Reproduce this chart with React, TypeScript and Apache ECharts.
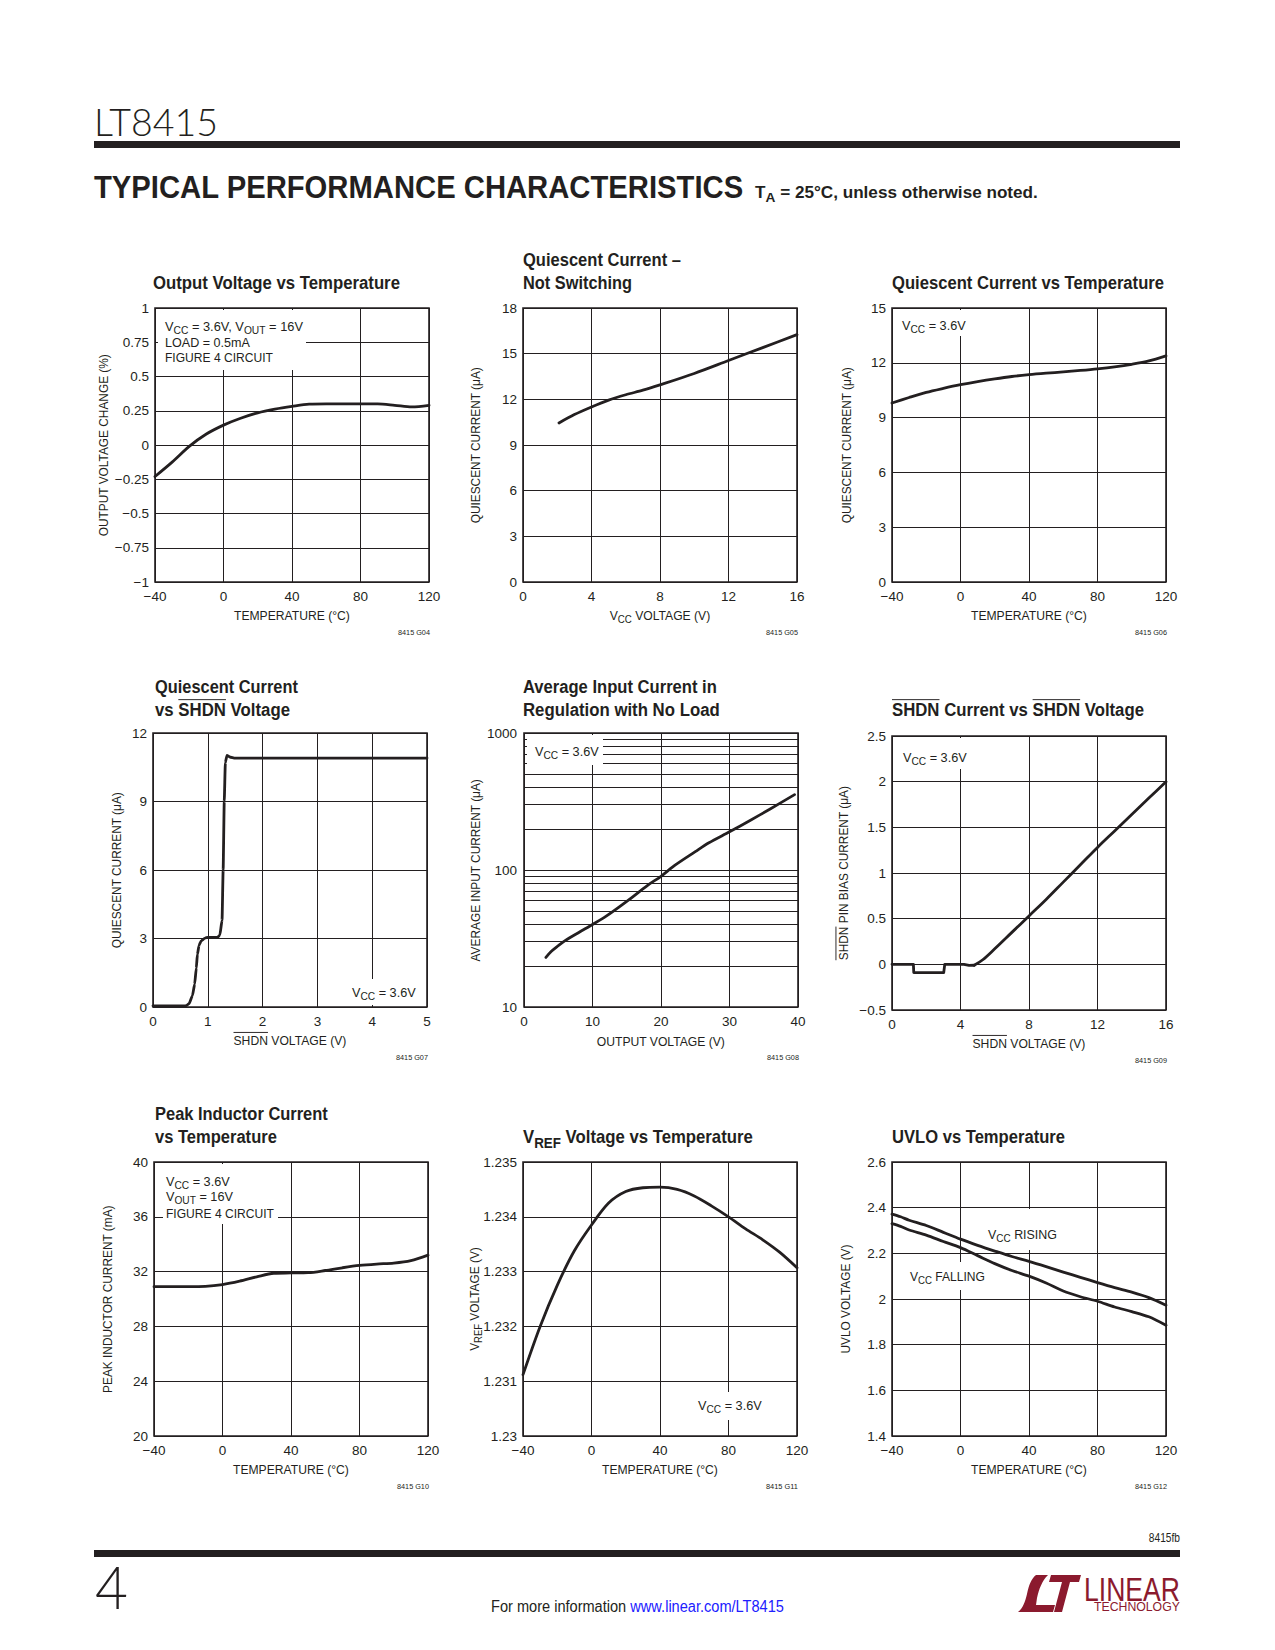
import React, { useEffect, useRef } from 'react';
import * as echarts from 'echarts';

const INK = '#231f20';
const RED = '#8b1a2e';
const SANS = "'Liberation Sans', Arial, Helvetica, sans-serif";
const LIGHT = "Lato, 'Liberation Sans', sans-serif";

// ---------------- data ----------------
// G04 Output Voltage vs Temperature
const g04Temp = [-40, -30, -20, -10, 0, 10, 20, 30, 40, 50, 60, 70, 80, 90, 100, 110, 120];
const g04Change = [-0.23, -0.125, -0.01, 0.08, 0.145, 0.195, 0.235, 0.262, 0.282, 0.298, 0.3, 0.3, 0.3, 0.3, 0.29, 0.278, 0.29];
// G05 Quiescent Current - Not Switching
const g05Vcc = [2.1, 3, 4, 5, 6, 7, 8, 10, 12, 14, 16];
const g05Iq = [10.45, 11.0, 11.5, 11.95, 12.3, 12.6, 12.95, 13.7, 14.55, 15.4, 16.25];
// G06 Quiescent Current vs Temperature
const g06Temp = [-40, -30, -20, -10, 0, 10, 20, 30, 40, 50, 60, 70, 80, 90, 100, 110, 120];
const g06Iq = [9.8, 10.1, 10.38, 10.6, 10.8, 10.97, 11.12, 11.25, 11.35, 11.43, 11.5, 11.58, 11.67, 11.78, 11.92, 12.1, 12.38];
// G07 Quiescent Current vs SHDN Voltage
const g07Shdn = [0, 0.6, 0.66, 0.72, 0.76, 0.79, 0.81, 0.84, 0.88, 0.95, 1.0, 1.18, 1.22, 1.26, 1.28, 1.3, 1.32, 1.35, 1.4, 1.5, 5];
const g07Iq = [0.05, 0.05, 0.15, 0.5, 1.0, 1.7, 2.3, 2.7, 2.9, 3.02, 3.05, 3.05, 3.15, 3.8, 6, 9, 10.7, 11.02, 10.95, 10.9, 10.9];
// G08 Average Input Current in Regulation with No Load
const g08Vout = [3.2, 4, 5, 6, 8, 10, 12, 15, 18, 20, 22, 25, 27, 30, 33, 36, 39.5];
const g08Iin = [23, 25.5, 28, 30.5, 35, 40, 46, 59, 77, 90, 108, 136, 158, 190, 230, 280, 355];
const g08MinorGrid = [20, 30, 40, 50, 60, 70, 80, 90, 200, 300, 400, 500, 600, 700, 800, 900];
// G09 SHDN Current vs SHDN Voltage (flat/step part and rising part)
const g09StepV = [0, 1.25, 1.27, 3.02, 3.08, 4.2, 4.5, 4.8];
const g09StepI = [0, 0, -0.09, -0.09, 0, 0, -0.012, -0.01];
const g09RiseV = [4.8, 5.3, 6, 7, 8, 9, 10, 11, 12, 13, 14, 15, 16];
const g09RiseI = [-0.01, 0.05, 0.17, 0.35, 0.53, 0.71, 0.9, 1.09, 1.28, 1.46, 1.64, 1.82, 2.0];
// G10 Peak Inductor Current vs Temperature
const g10Temp = [-40, -30, -20, -10, 0, 10, 20, 30, 40, 50, 60, 70, 80, 90, 100, 110, 120];
const g10Ipk = [30.9, 30.9, 30.9, 30.92, 31.05, 31.3, 31.62, 31.88, 31.9, 31.92, 32.08, 32.28, 32.45, 32.55, 32.62, 32.8, 33.2];
// G11 VREF Voltage vs Temperature
const g11Temp = [-40, -30, -20, -10, 0, 10, 20, 30, 40, 50, 60, 70, 80, 90, 100, 110, 120];
const g11Vref = [1.23112, 1.232, 1.23275, 1.23338, 1.23385, 1.23425, 1.23446, 1.23453, 1.23454, 1.2345, 1.23438, 1.2342, 1.234, 1.23378, 1.23358, 1.23335, 1.23307];
// G12 UVLO vs Temperature
const g12Temp = [-40, -35, -30, -20, -10, 0, 10, 20, 30, 40, 50, 60, 70, 80, 90, 100, 110, 120];
const g12Rising = [2.372, 2.36, 2.345, 2.322, 2.292, 2.262, 2.235, 2.21, 2.186, 2.165, 2.142, 2.118, 2.095, 2.072, 2.05, 2.03, 2.006, 1.973];
const g12Falling = [2.33, 2.318, 2.302, 2.28, 2.252, 2.225, 2.19, 2.155, 2.125, 2.1, 2.07, 2.035, 2.01, 1.99, 1.965, 1.945, 1.922, 1.885];

// ---------------- layout ----------------
const PW = 274;
const PH = 274;
const PLOTS = [
  { l: 155, t: 308 }, { l: 523, t: 308 }, { l: 892, t: 308 },
  { l: 153, t: 733 }, { l: 524, t: 733 }, { l: 892, t: 736 },
  { l: 154, t: 1162 }, { l: 523, t: 1162 }, { l: 892, t: 1162 },
];
const AXES: { x: number[]; y: number[]; log?: boolean }[] = [
  { x: [-40, 120, 40], y: [-1, 1, 0.25] },
  { x: [0, 16, 4], y: [0, 18, 3] },
  { x: [-40, 120, 40], y: [0, 15, 3] },
  { x: [0, 5, 1], y: [0, 12, 3] },
  { x: [0, 40, 10], y: [10, 1000, 0], log: true },
  { x: [0, 16, 4], y: [-0.5, 2.5, 0.5] },
  { x: [-40, 120, 40], y: [20, 40, 4] },
  { x: [-40, 120, 40], y: [1.23, 1.235, 0.001] },
  { x: [-40, 120, 40], y: [1.4, 2.6, 0.2] },
];

const fmt = (v: number) => {
  const r = Math.round(v * 1e6) / 1e6;
  const s = String(Math.abs(r));
  return r < 0 ? '\u2212' + s : s;
};

let mctx: CanvasRenderingContext2D | null = null;
function tw(s: string, size: number, weight: any, family: string) {
  if (!mctx) mctx = document.createElement('canvas').getContext('2d');
  mctx!.font = `${weight} ${size}px ${family}`;
  return mctx!.measureText(s).width;
}

type Seg = { t: string; sub?: boolean; over?: boolean; color?: string };
type RtOpt = {
  size?: number; weight?: any; family?: string; color?: string;
  align?: 'left' | 'center' | 'right'; rotation?: number; scaleX?: number; width?: number; z?: number;
};
function rt(x: number, y: number, segs: Seg[] | string, o: RtOpt = {}) {
  const size = o.size ?? 13.5;
  const weight = o.weight ?? 'normal';
  const family = o.family ?? SANS;
  const color = o.color ?? INK;
  const z = o.z ?? 6;
  const list: Seg[] = typeof segs === 'string' ? [{ t: segs }] : segs;
  const items: any[] = [];
  let cx = 0;
  for (const s of list) {
    const sz = s.sub ? size * 0.8 : size;
    const w = tw(s.t, sz, weight, family);
    items.push({ s, sz, w, x: cx });
    cx += w;
  }
  const off = o.align === 'center' ? -cx / 2 : o.align === 'right' ? -cx : 0;
  const children: any[] = [];
  for (const it of items) {
    children.push({
      type: 'text', x: it.x + off, y: it.s.sub ? size * 0.3 : 0, z,
      style: {
        text: it.s.t, fontSize: it.sz, fontWeight: weight, fontFamily: family,
        fill: it.s.color ?? color, textAlign: 'left', textVerticalAlign: 'middle', align: 'left', verticalAlign: 'middle',
      },
    });
    if (it.s.over) {
      children.push({
        type: 'line', z,
        shape: { x1: it.x + off, y1: -size * 0.56, x2: it.x + off + it.w, y2: -size * 0.56 },
        style: { stroke: it.s.color ?? color, lineWidth: 1 },
      });
    }
  }
  const scaleX = o.width ? o.width / cx : (o.scaleX ?? 1);
  return { type: 'group', x, y, rotation: o.rotation ?? 0, scaleX, children };
}
const box = (x: number, y: number, w: number, h: number) => ({
  type: 'rect', z: 3, shape: { x, y, width: w, height: h }, style: { fill: '#fff' },
});

const LOGO_D = 'M21 0 L33 0 C27 6 24 14 22 23 L21 30 L40 30 L38 37 L3 37 C8 33 10 27 12 19 C14 10 16 4 21 0 Z M36 0 L66 0 L64 7 L55 7 L47 37 L39 37 L47 7 L34 7 Z';

export default function App() {
  const ref = useRef<HTMLDivElement>(null);
  useEffect(() => {
    if (!ref.current) return;
    try {
      echarts.graphic.registerShape('ltLogo', (echarts.graphic as any).extendPath(LOGO_D, {}));
    } catch (e) { /* ignore */ }
    const chart = echarts.init(ref.current, undefined, { renderer: 'svg' });

    const grid = PLOTS.map((p) => ({
      left: p.l, top: p.t, width: PW, height: PH, show: true,
      borderColor: INK, borderWidth: 1.6, backgroundColor: 'transparent',
    }));
    const labelStyle = { color: INK, fontSize: 13.5, fontFamily: SANS, formatter: fmt };
    const xAxis = AXES.map((a, i) => ({
      type: 'value', gridIndex: i, min: a.x[0], max: a.x[1], interval: a.x[2],
      axisLine: { show: false }, axisTick: { show: false },
      splitLine: { show: true, lineStyle: { color: INK, width: 1 } },
      axisLabel: { ...labelStyle, margin: 7 },
    }));
    const yAxis = AXES.map((a, i) => a.log ? ({
      type: 'log', logBase: 10, gridIndex: i, min: a.y[0], max: a.y[1],
      axisLine: { show: false }, axisTick: { show: false },
      splitLine: { show: true, lineStyle: { color: INK, width: 1 } },
      axisLabel: { ...labelStyle, margin: 7 },
    }) : ({
      type: 'value', gridIndex: i, min: a.y[0], max: a.y[1], interval: a.y[2],
      axisLine: { show: false }, axisTick: { show: false },
      splitLine: { show: true, lineStyle: { color: INK, width: 1 } },
      axisLabel: { ...labelStyle, margin: 6 },
    }));

    const pair = (xs: number[], ys: number[]) => xs.map((x, i) => [x, ys[i]]);
    const line = (gi: number, xs: number[], ys: number[], extra: any = {}) => ({
      type: 'line', xAxisIndex: gi, yAxisIndex: gi, data: pair(xs, ys),
      showSymbol: false, symbol: 'none', smooth: 0.3, silent: true, z: 5,
      lineStyle: { color: INK, width: 2.8, cap: 'round', join: 'round' }, ...extra,
    });
    const series: any[] = [
      line(0, g04Temp, g04Change),
      line(1, g05Vcc, g05Iq),
      line(2, g06Temp, g06Iq),
      line(3, g07Shdn, g07Iq, { smooth: 0.15, smoothMonotone: 'x' }),
      line(4, g08Vout, g08Iin),
      {
        type: 'line', xAxisIndex: 4, yAxisIndex: 4, data: pair(g08Vout, g08Iin), showSymbol: false, symbol: 'none',
        silent: true, z: 2, lineStyle: { opacity: 0, width: 0 },
        markLine: {
          silent: true, z: 2, symbol: ['none', 'none'], label: { show: false },
          lineStyle: { color: INK, width: 1, type: 'solid' }, emphasis: { disabled: true },
          data: g08MinorGrid.map((v) => ({ yAxis: v })),
        },
      },
      line(5, g09StepV, g09StepI, { smooth: false }),
      line(5, g09RiseV, g09RiseI, { smooth: 0.35 }),
      line(6, g10Temp, g10Ipk),
      line(7, g11Temp, g11Vref),
      line(8, g12Temp, g12Rising),
      line(8, g12Temp, g12Falling),
    ];

    const TS = 18.5;
    const tb = { size: TS, weight: 'bold' as any };
    const V = 'V';
    const ROT = Math.PI / 2;
    const AS = 0.94;
    const graphic: any[] = [
      // header
      rt(94, 121.5, 'LT8415', { size: 37, family: LIGHT, weight: 300, width: 124 }),
      { type: 'rect', z: 6, shape: { x: 94, y: 141, width: 1086, height: 7 }, style: { fill: INK } },
      rt(94, 186.5, 'TYPICAL PERFORMANCE CHARACTERISTICS', { size: 32, weight: 900, width: 650 }),
      rt(755, 192.5, [{ t: 'T' }, { t: 'A', sub: true }, { t: ' = 25°C, unless otherwise noted.' }], { size: 16.5, weight: 'bold', width: 283 }),

      // titles
      rt(153, 283, 'Output Voltage vs Temperature', { ...tb, width: 247 }),
      rt(523, 260, 'Quiescent Current –', { ...tb, width: 158 }),
      rt(523, 283, 'Not Switching', { ...tb, width: 109 }),
      rt(892, 283, 'Quiescent Current vs Temperature', { ...tb, width: 272 }),
      rt(155, 687, 'Quiescent Current', { ...tb, width: 143 }),
      rt(155, 710, [{ t: 'vs ' }, { t: 'SHDN', over: true }, { t: ' Voltage' }], { ...tb, width: 135 }),
      rt(523, 687, 'Average Input Current in', { ...tb, width: 194 }),
      rt(523, 710, 'Regulation with No Load', { ...tb, width: 197 }),
      rt(892, 710, [{ t: 'SHDN', over: true }, { t: ' Current vs ' }, { t: 'SHDN', over: true }, { t: ' Voltage' }], { ...tb, width: 252 }),
      rt(155, 1114, 'Peak Inductor Current', { ...tb, width: 173 }),
      rt(155, 1137, 'vs Temperature', { ...tb, width: 122 }),
      rt(523, 1137, [{ t: V }, { t: 'REF', sub: true }, { t: ' Voltage vs Temperature' }], { ...tb, width: 230 }),
      rt(892, 1137, 'UVLO vs Temperature', { ...tb, width: 173 }),

      // x axis names
      rt(292, 615, 'TEMPERATURE (°C)', { align: 'center', scaleX: 0.9 }),
      rt(660, 615, [{ t: V }, { t: 'CC', sub: true }, { t: ' VOLTAGE (V)' }], { align: 'center', scaleX: 0.9 }),
      rt(1029, 615, 'TEMPERATURE (°C)', { align: 'center', scaleX: 0.9 }),
      rt(290, 1040, [{ t: 'SHDN', over: true }, { t: ' VOLTAGE (V)' }], { align: 'center', scaleX: 0.9 }),
      rt(661, 1041, 'OUTPUT VOLTAGE (V)', { align: 'center', scaleX: 0.9 }),
      rt(1029, 1043, [{ t: 'SHDN', over: true }, { t: ' VOLTAGE (V)' }], { align: 'center', scaleX: 0.9 }),
      rt(291, 1469, 'TEMPERATURE (°C)', { align: 'center', scaleX: 0.9 }),
      rt(660, 1469, 'TEMPERATURE (°C)', { align: 'center', scaleX: 0.9 }),
      rt(1029, 1469, 'TEMPERATURE (°C)', { align: 'center', scaleX: 0.9 }),

      // y axis names
      rt(103, 445, 'OUTPUT VOLTAGE CHANGE (%)', { align: 'center', scaleX: 0.88, rotation: ROT }),
      rt(475, 445, 'QUIESCENT CURRENT (μA)', { align: 'center', scaleX: 0.88, rotation: ROT }),
      rt(846, 445, 'QUIESCENT CURRENT (μA)', { align: 'center', scaleX: 0.88, rotation: ROT }),
      rt(116, 870, 'QUIESCENT CURRENT (μA)', { align: 'center', scaleX: 0.88, rotation: ROT }),
      rt(475, 870, 'AVERAGE INPUT CURRENT (μA)', { align: 'center', scaleX: 0.88, rotation: ROT }),
      rt(843.5, 873, [{ t: 'SHDN', over: true }, { t: ' PIN BIAS CURRENT (μA)' }], { align: 'center', scaleX: 0.88, rotation: ROT }),
      rt(107.5, 1299, 'PEAK INDUCTOR CURRENT (mA)', { align: 'center', scaleX: 0.88, rotation: ROT }),
      rt(474, 1299, [{ t: V }, { t: 'REF', sub: true }, { t: ' VOLTAGE (V)' }], { align: 'center', scaleX: 0.88, rotation: ROT }),
      rt(845.5, 1299, 'UVLO VOLTAGE (V)', { align: 'center', scaleX: 0.88, rotation: ROT }),

      // figure codes
      rt(430, 632, '8415 G04', { size: 8, align: 'right', width: 32 }),
      rt(798, 632, '8415 G05', { size: 8, align: 'right', width: 32 }),
      rt(1167, 632, '8415 G06', { size: 8, align: 'right', width: 32 }),
      rt(428, 1057, '8415 G07', { size: 8, align: 'right', width: 32 }),
      rt(799, 1057, '8415 G08', { size: 8, align: 'right', width: 32 }),
      rt(1167, 1060, '8415 G09', { size: 8, align: 'right', width: 32 }),
      rt(429, 1486, '8415 G10', { size: 8, align: 'right', width: 32 }),
      rt(798, 1486, '8415 G11', { size: 8, align: 'right', width: 32 }),
      rt(1167, 1486, '8415 G12', { size: 8, align: 'right', width: 32 }),

      // annotation boxes
      box(158, 310, 148, 60),
      box(894, 310, 72, 26),
      box(348, 979, 70, 26),
      box(527, 735, 76, 30),
      box(894, 738, 74, 31),
      box(163, 1164, 115, 60),
      box(694, 1392, 71, 28),
      box(985, 1209, 81, 41),
      box(906, 1262, 82, 28),

      // annotations
      rt(165, 326, [{ t: V }, { t: 'CC', sub: true }, { t: ' = 3.6V, V' }, { t: 'OUT', sub: true }, { t: ' = 16V' }], { width: 138 }),
      rt(165, 342.5, 'LOAD = 0.5mA', { width: 85 }),
      rt(165, 357.5, 'FIGURE 4 CIRCUIT', { width: 108 }),
      rt(902, 325, [{ t: V }, { t: 'CC', sub: true }, { t: ' = 3.6V' }], { scaleX: AS }),
      rt(352, 992, [{ t: V }, { t: 'CC', sub: true }, { t: ' = 3.6V' }], { scaleX: AS }),
      rt(535, 751, [{ t: V }, { t: 'CC', sub: true }, { t: ' = 3.6V' }], { scaleX: AS }),
      rt(903, 757, [{ t: V }, { t: 'CC', sub: true }, { t: ' = 3.6V' }], { scaleX: AS }),
      rt(166, 1181.5, [{ t: V }, { t: 'CC', sub: true }, { t: ' = 3.6V' }], { scaleX: AS }),
      rt(166, 1196.5, [{ t: V }, { t: 'OUT', sub: true }, { t: ' = 16V' }], { scaleX: AS }),
      rt(166, 1213, 'FIGURE 4 CIRCUIT', { width: 108 }),
      rt(698, 1405.5, [{ t: V }, { t: 'CC', sub: true }, { t: ' = 3.6V' }], { scaleX: AS }),
      rt(988, 1234, [{ t: V }, { t: 'CC', sub: true }, { t: ' RISING' }], { width: 69 }),
      rt(910, 1276, [{ t: V }, { t: 'CC', sub: true }, { t: ' FALLING' }], { width: 75 }),

      // footer
      rt(1180, 1537.5, '8415fb', { size: 12, align: 'right', scaleX: 0.85 }),
      { type: 'rect', z: 6, shape: { x: 94, y: 1550, width: 1086, height: 7 }, style: { fill: INK } },
      rt(95, 1585, '4', { size: 60, family: LIGHT, weight: 300, width: 33 }),
      rt(491, 1606, [{ t: 'For more information ' }, { t: 'www.linear.com/LT8415', color: '#2020ff' }], { size: 16, width: 293 }),
      { type: 'ltLogo', x: 1015, y: 1575, scaleX: 1, scaleY: 1, z: 6, style: { fill: RED } },
      rt(1084, 1589, 'LINEAR', { size: 34, color: RED, width: 96 }),
      rt(1094, 1607.5, 'TECHNOLOGY', { size: 12, color: RED, width: 86 }),
    ];

    chart.setOption({
      animation: false,
      backgroundColor: '#ffffff',
      grid, xAxis, yAxis, series, graphic,
    } as any);
    return () => chart.dispose();
  }, []);

  return (
    <div
      ref={ref}
      style={{ position: 'absolute', left: 0, top: 0, width: 1275, height: 1650, background: '#fff' }}
    />
  );
}
